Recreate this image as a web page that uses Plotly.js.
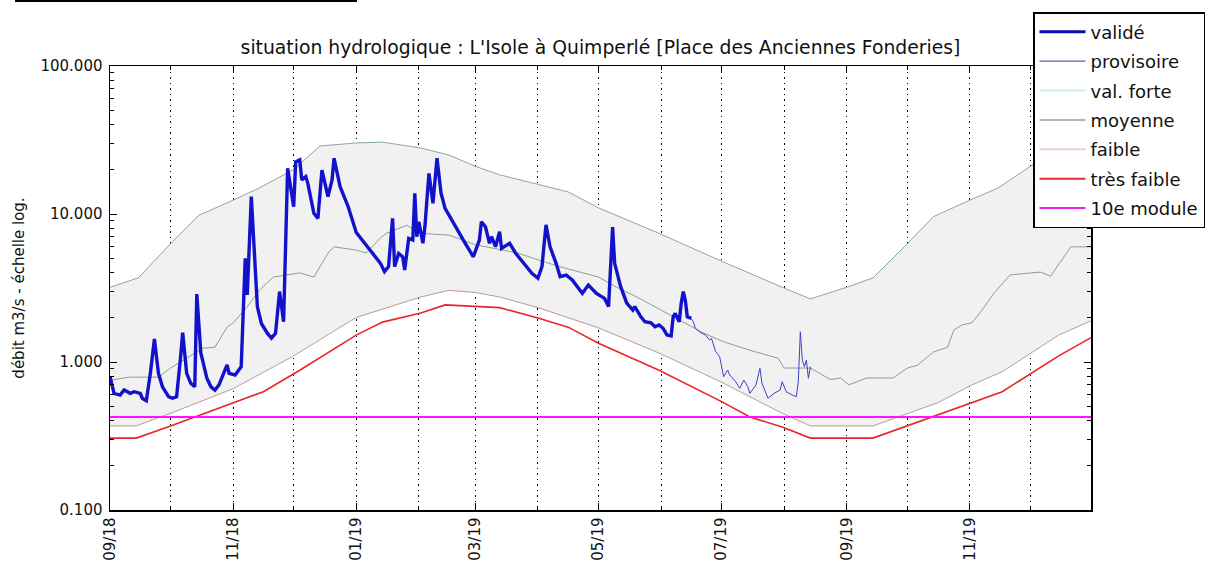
<!DOCTYPE html>
<html>
<head>
<meta charset="utf-8">
<script src="https://cdn.plot.ly/plotly-3.0.1.min.js"></script>
<style>
  html, body { margin: 0; padding: 0; background: #fff; }
  #chart { width: 1206px; height: 563px; }
</style>
</head>
<body>
<div id="chart"></div>
<script>
// ---- data ----
const validDates = ["2018-09-01","2018-09-03","2018-09-06","2018-09-08","2018-09-11","2018-09-13","2018-09-16","2018-09-17","2018-09-19","2018-09-21","2018-09-23","2018-09-25","2018-09-27","2018-09-29","2018-09-30","2018-10-02","2018-10-04","2018-10-06","2018-10-07","2018-10-09","2018-10-11","2018-10-13","2018-10-14","2018-10-16","2018-10-19","2018-10-21","2018-10-23","2018-10-25","2018-10-29","2018-10-30","2018-11-02","2018-11-05","2018-11-07","2018-11-08","2018-11-10","2018-11-13","2018-11-15","2018-11-18","2018-11-20","2018-11-22","2018-11-24","2018-11-26","2018-11-28","2018-12-01","2018-12-02","2018-12-04","2018-12-05","2018-12-07","2018-12-08","2018-12-11","2018-12-13","2018-12-15","2018-12-16","2018-12-18","2018-12-20","2018-12-21","2018-12-24","2018-12-28","2019-01-01","2019-01-04","2019-01-09","2019-01-13","2019-01-15","2019-01-17","2019-01-19","2019-01-20","2019-01-22","2019-01-24","2019-01-25","2019-01-27","2019-01-29","2019-01-30","2019-01-31","2019-02-01","2019-02-03","2019-02-04","2019-02-06","2019-02-08","2019-02-10","2019-02-12","2019-02-14","2019-02-19","2019-02-24","2019-02-28","2019-03-03","2019-03-04","2019-03-06","2019-03-08","2019-03-09","2019-03-11","2019-03-13","2019-03-14","2019-03-18","2019-03-21","2019-03-26","2019-03-29","2019-04-01","2019-04-03","2019-04-05","2019-04-07","2019-04-10","2019-04-12","2019-04-15","2019-04-18","2019-04-23","2019-04-26","2019-04-30","2019-05-04","2019-05-06","2019-05-08","2019-05-09","2019-05-12","2019-05-15","2019-05-18","2019-05-19","2019-05-22","2019-05-24","2019-05-27","2019-05-29","2019-05-31","2019-06-02","2019-06-04","2019-06-06","2019-06-07","2019-06-08","2019-06-10","2019-06-11","2019-06-12","2019-06-13","2019-06-14","2019-06-16"];
const validValues = [0.80,0.614,0.598,0.647,0.614,0.63,0.614,0.569,0.548,0.838,1.43,0.838,0.68,0.614,0.583,0.569,0.583,1.09,1.58,0.838,0.718,0.68,2.88,1.15,0.776,0.68,0.647,0.70,0.955,0.838,0.817,0.93,5.02,2.84,13.1,2.37,1.82,1.56,1.45,1.56,2.99,1.87,20.4,11.2,22.5,23.2,17,17.9,16.1,10.1,9.35,19.8,17,13.1,17,23.8,15.3,11.2,7.5,6.67,5.42,4.64,4.08,4.41,9.35,4.41,5.42,5.14,4.19,6.85,6.67,13.8,7.03,8.87,6.34,8.2,18.8,11.8,23.8,13.8,10.9,8.2,6.34,5.14,6.67,8.87,8.2,6.34,7.03,6.01,7.59,5.86,6.34,5.42,4.41,3.97,3.68,4.41,8.44,6.01,4.64,3.77,3.87,3.58,2.91,3.31,2.91,2.69,2.37,8.17,4.64,3.23,2.5,2.24,2.37,2.02,1.87,1.84,1.73,1.78,1.69,1.52,1.5,2.02,2.13,1.87,2.5,2.99,2.62,2.02,1.97];

const provDates = ["2019-06-16","2019-06-17","2019-06-18","2019-06-20","2019-06-23","2019-06-25","2019-06-26","2019-06-28","2019-06-30","2019-07-02","2019-07-04","2019-07-05","2019-07-08","2019-07-10","2019-07-12","2019-07-14","2019-07-15","2019-07-18","2019-07-20","2019-07-21","2019-07-23","2019-07-24","2019-07-27","2019-07-30","2019-07-31","2019-08-02","2019-08-05","2019-08-07","2019-08-08","2019-08-09","2019-08-10","2019-08-11","2019-08-12","2019-08-13","2019-08-14"];
const provValues = [1.97,1.87,1.69,1.6,1.52,1.41,1.44,1.18,1.09,0.796,0.883,0.817,0.736,0.664,0.755,0.68,0.614,0.70,0.906,0.718,0.614,0.569,0.614,0.647,0.736,0.63,0.598,0.583,0.736,1.6,1.03,0.93,1.03,0.776,0.93];

const forteDates = ["2018-09-01","2018-09-15","2018-10-01","2018-10-15","2018-11-01","2018-11-14","2018-12-01","2018-12-14","2019-01-01","2019-01-14","2019-02-02","2019-02-16","2019-03-01","2019-03-13","2019-04-16","2019-05-01","2019-05-31","2019-07-01","2019-07-31","2019-08-14","2019-09-01","2019-09-14","2019-10-01","2019-10-14","2019-11-01","2019-11-15","2019-12-01","2019-12-14","2019-12-31"];
const forteValues = [3.2,3.7,6.3,9.8,12.4,15,20,28.8,30.2,30.6,27.9,25,21,18.4,14.1,11,7.4,4.8,3.2,2.67,3.2,3.7,6.3,9.6,12.4,15,21,28.8,30.2];

const moyDates = ["2018-09-01","2018-09-10","2018-09-25","2018-10-01","2018-10-17","2018-10-23","2018-10-29","2018-11-01","2018-11-08","2018-11-14","2018-11-21","2018-12-04","2018-12-11","2018-12-18","2018-12-21","2019-01-01","2019-01-06","2019-01-13","2019-01-16","2019-01-26","2019-02-02","2019-02-16","2019-03-01","2019-03-22","2019-04-01","2019-04-12","2019-05-01","2019-05-10","2019-05-20","2019-06-01","2019-06-12","2019-06-22","2019-07-02","2019-07-15","2019-07-29","2019-08-01","2019-08-14","2019-08-24","2019-08-29","2019-09-02","2019-09-11","2019-09-24","2019-10-01","2019-10-06","2019-10-14","2019-10-21","2019-10-24","2019-10-28","2019-11-02","2019-11-07","2019-11-13","2019-11-21","2019-12-06","2019-12-11","2019-12-21","2019-12-31"];
const moyValues = [0.75,0.79,0.79,0.91,1.24,1.26,1.72,1.84,2.36,3.06,3.75,4.0,3.75,5.45,6.0,5.7,5.45,6.9,7.4,8.4,7.4,7.2,6.2,5.45,4.9,4.4,3.75,3.2,2.75,2.24,1.84,1.57,1.37,1.2,1.06,0.91,0.91,0.76,0.78,0.70,0.78,0.78,0.91,0.95,1.17,1.26,1.64,1.78,1.84,2.24,2.93,3.88,4.05,3.8,6.0,6.0];

const faibleDates = ["2018-09-01","2018-09-14","2018-10-01","2018-11-01","2018-12-01","2019-01-01","2019-02-02","2019-02-16","2019-03-01","2019-03-13","2019-04-01","2019-04-16","2019-05-01","2019-05-31","2019-07-01","2019-07-31","2019-08-14","2019-09-14","2019-10-01","2019-10-16","2019-11-02","2019-11-17","2019-12-15","2019-12-31"];
const faibleValues = [0.37,0.37,0.45,0.66,1.1,2.0,2.75,3.05,2.95,2.75,2.33,2.0,1.7,1.15,0.73,0.45,0.37,0.37,0.45,0.53,0.70,0.86,1.52,1.9];

const tfDates = ["2018-09-01","2018-09-14","2018-10-01","2018-11-01","2018-11-16","2018-12-04","2019-01-01","2019-01-14","2019-02-02","2019-02-14","2019-03-01","2019-03-13","2019-04-01","2019-04-16","2019-05-01","2019-05-31","2019-07-01","2019-07-15","2019-07-31","2019-08-14","2019-09-14","2019-10-01","2019-11-02","2019-11-17","2019-12-15","2019-12-31"];
const tfValues = [0.306,0.306,0.37,0.53,0.63,0.88,1.52,1.86,2.14,2.43,2.38,2.33,1.98,1.72,1.34,0.88,0.54,0.425,0.364,0.306,0.306,0.37,0.53,0.63,1.1,1.46];

const moduleDates = ["2018-09-01","2019-12-31"];
const moduleValues = [0.425,0.425];

const yTickVals = [0.1,1,10,100];
const yTickText = ["0.100","1.000","10.000","100.000"];

const titleText = "situation hydrologique : L'Isole à Quimperlé [Place des Anciennes Fonderies]";
const yTitleText = "débit m3/s - échelle log.";

// ---- chart ----
const FONT = "DejaVu Sans, Bitstream Vera Sans, sans-serif";

const minorLogTicks = [];
for (let e = -1; e < 2; e++) for (let m = 2; m <= 9; m++) minorLogTicks.push(m * Math.pow(10, e));

function legendOnly(name, color, width, rank) {
  return {x: [null], y: [null], type: 'scatter', mode: 'lines', name: name,
          line: {color: color, width: width}, legendrank: rank, legendgroup: name,
          hoverinfo: 'skip'};
}

const traces = [
  // grey envelope between "faible" and "val. forte"
  {x: faibleDates, y: faibleValues, type: 'scatter', mode: 'lines',
   line: {width: 0, color: 'rgba(0,0,0,0)'}, showlegend: false, hoverinfo: 'skip'},
  {x: forteDates, y: forteValues, type: 'scatter', mode: 'lines', fill: 'tonexty',
   fillcolor: '#f1f1f1', line: {width: 0, color: 'rgba(0,0,0,0)'}, showlegend: false, hoverinfo: 'skip'},
  // visible reference lines
  {x: forteDates, y: forteValues, type: 'scatter', mode: 'lines', name: 'val. forte',
   line: {color: '#8aa8a2', width: 1}, showlegend: false},
  {x: moyDates, y: moyValues, type: 'scatter', mode: 'lines', name: 'moyenne',
   line: {color: '#8c9e8e', width: 1}, showlegend: false},
  {x: faibleDates, y: faibleValues, type: 'scatter', mode: 'lines', name: 'faible',
   line: {color: '#c09898', width: 1}, showlegend: false},
  {x: tfDates, y: tfValues, type: 'scatter', mode: 'lines', name: 'très faible',
   line: {color: '#e8262a', width: 1.6}, showlegend: false},
  {x: moduleDates, y: moduleValues, type: 'scatter', mode: 'lines', name: '10e module',
   line: {color: '#ff10ff', width: 1.8}, showlegend: false},
  {x: validDates, y: validValues, type: 'scatter', mode: 'lines', name: 'validé',
   line: {color: '#1212cc', width: 3.4}, showlegend: false},
  {x: provDates, y: provValues, type: 'scatter', mode: 'lines', name: 'provisoire',
   line: {color: '#4040cc', width: 1}, showlegend: false},
  // legend entries
  legendOnly('validé', '#0a0ab4', 3, 1),
  legendOnly('provisoire', '#5a5ac8', 1.2, 2),
  legendOnly('val. forte', '#cdeee9', 2, 3),
  legendOnly('moyenne', '#a6bcac', 2, 4),
  legendOnly('faible', '#eecdd2', 2, 5),
  legendOnly('très faible', '#e03030', 2, 6),
  legendOnly('10e module', '#ee22ee', 2, 7)
];

const layout = {
  width: 1206, height: 563,
  margin: {l: 110, r: 115, t: 66, b: 53, pad: 0, autoexpand: false},
  paper_bgcolor: '#ffffff', plot_bgcolor: '#ffffff',
  font: {family: FONT, color: '#111', size: 15},
  title: {text: titleText, font: {family: FONT, size: 18.8, color: '#111'},
          xref: 'paper', x: 0.5, xanchor: 'center', yref: 'container', y: 1 - 47/563, yanchor: 'middle'},
  showlegend: true,
  legend: {x: (1033-110)/981, xanchor: 'left', y: (510-12)/444, yanchor: 'top',
           bgcolor: '#ffffff', bordercolor: '#000', borderwidth: 1.5,
           font: {family: FONT, size: 18, color: '#111'},
           traceorder: 'grouped', tracegroupgap: 3, itemwidth: 46},
  xaxis: {type: 'date', range: ['2018-09-01', '2019-12-31'],
          tick0: '2018-09-01', dtick: 'M2', tickformat: '%m/%y', tickangle: -90,
          ticks: 'inside', ticklen: 7, tickwidth: 1, tickcolor: '#000',
          showline: true, linecolor: '#000', linewidth: 1.5, mirror: 'ticks',
          showgrid: true, gridcolor: '#000', gridwidth: 1, griddash: '1.5px,4px',
          zeroline: false, tickfont: {family: FONT, size: 15, color: '#111'},
          minor: {dtick: 'M1', ticks: 'inside', ticklen: 4, tickcolor: '#000',
                  showgrid: true, gridcolor: '#000', gridwidth: 1, griddash: '1.5px,4px'}},
  yaxis: {type: 'log', range: [-1, 2], tickmode: 'array', tickvals: yTickVals, ticktext: yTickText,
          ticks: 'inside', ticklen: 7, tickwidth: 1, tickcolor: '#000',
          showline: true, linecolor: '#000', linewidth: 1.5, mirror: 'ticks',
          showgrid: false, zeroline: false, ticklabelstandoff: 3,
          tickfont: {family: FONT, size: 15, color: '#111'},
          title: {text: yTitleText, font: {family: FONT, size: 15, color: '#111'}, standoff: 12},
          minor: {tickmode: 'array', tickvals: minorLogTicks, ticks: 'inside', ticklen: 4,
                  tickcolor: '#000', showgrid: false}},
  shapes: [
    {type: 'line', xref: 'paper', yref: 'paper', x0: (15-110)/981, x1: (357-110)/981,
     y0: (510-1)/444, y1: (510-1)/444, line: {color: '#000', width: 2}}
  ]
};

Plotly.newPlot('chart', traces, layout, {displayModeBar: false, staticPlot: true});
</script>
</body>
</html>
